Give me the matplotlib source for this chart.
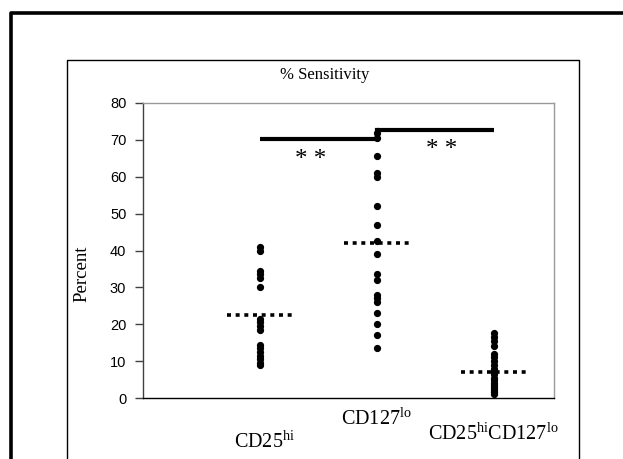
import numpy as np
import matplotlib.pyplot as plt
from matplotlib.lines import Line2D
from matplotlib.transforms import blended_transform_factory

plt.rcParams['font.family'] = ['Liberation Serif', 'DejaVu Serif']
plt.rcParams['mathtext.fontset'] = 'custom'
plt.rcParams['mathtext.rm'] = 'Liberation Serif'

# data
groups = ['CD25$^{\\mathrm{hi}}$', 'CD127$^{\\mathrm{lo}}$',
          'CD25$^{\\mathrm{hi}}$CD127$^{\\mathrm{lo}}$']
cd25 = [41, 40, 34.5, 33.5, 32.5, 30, 21.5, 20.5, 19.5, 18.5,
        14.5, 13.5, 12.5, 11.5, 10.5, 9.5, 9]
cd127 = [72, 70.5, 65.5, 61, 60, 52, 47, 42.5, 39, 33.5, 32,
         28, 27, 26, 23, 20, 17, 13.5]
cd25cd127 = [17.5, 16.5, 15.5, 14, 12, 11, 10, 9, 8, 7, 6.5,
             5.5, 5, 4, 3.5, 3, 2.5, 2, 1.5, 1]
means = [22.5, 42, 7]
sig_bars = [(1, 2, 70.2), (2, 3, 72.6)]
stars = [(1.43, 64.5), (2.55, 67.2)]
yticks = [0, 10, 20, 30, 40, 50, 60, 70, 80]

W, H = 623, 459
fig = plt.figure(figsize=(W / 100, H / 100), dpi=100)
ax = fig.add_axes([143 / W, 1 - 398 / H, (554 - 143) / W, (398 - 103) / H])

series = [cd25, cd127, cd25cd127]
for i, vals in enumerate(series):
    x = np.full(len(vals), i + 1)
    ax.plot(x, vals, 'o', color='black', markersize=4.2, zorder=3)
    ax.plot([i + 1 - 0.28, i + 1 + 0.28], [means[i], means[i]], color='black',
            lw=2.6, linestyle=(0, (1.1, 1.3)), zorder=4)

# significance bars
for x0, x1, y in sig_bars:
    ax.plot([x0, x1], [y, y], color='black', lw=3, solid_capstyle='butt', zorder=5)
ax.plot([2, 2], [sig_bars[0][2], sig_bars[1][2]], color='black', lw=3, zorder=5)
for sx, sy in stars:
    ax.text(sx, sy, '* *', fontsize=18, ha='center', va='center')

ax.set_xlim(0, 3.51)
ax.set_ylim(0, 80)
ax.set_yticks(yticks)
ax.set_xticks([])
ax.tick_params(axis='y', direction='out', length=6, width=1, color='#404040', pad=6)
for lab in ax.get_yticklabels():
    lab.set_fontfamily('Liberation Sans')
    lab.set_fontsize(10.5)
for s in ['top', 'right']:
    ax.spines[s].set_color('#9a9a9a')
ax.spines['left'].set_color('#404040')
ax.spines['bottom'].set_color('black')
for s in ax.spines.values():
    s.set_linewidth(1)

fig.text(82 / W, 1 - 274 / H, 'Percent', rotation=90, fontsize=13.5,
         ha='center', va='center')
fig.text(325 / W, 1 - 75 / H, '% Sensitivity', fontsize=12, ha='center', va='center')

# staggered category labels
tr = blended_transform_factory(ax.transData, fig.transFigure)
label_x = [1.04, 1.99, 2.99]
label_base = [448, 425, 440]
for name, lx, lb in zip(groups, label_x, label_base):
    ax.text(lx, 1 - lb / H, name, transform=tr, fontsize=14.5, ha='center',
            va='baseline', clip_on=False)

# outer and inner frames
fig.add_artist(Line2D([10.5 / W, 10.5 / W, 1], [0, 1 - 12.5 / H, 1 - 12.5 / H],
                      transform=fig.transFigure, color='black', lw=2.6))
fig.add_artist(Line2D([67 / W, 67 / W, 579 / W, 579 / W], [0, 1 - 60 / H, 1 - 60 / H, 0],
                      transform=fig.transFigure, color='black', lw=1))

fig.savefig('out.png', dpi=100)
